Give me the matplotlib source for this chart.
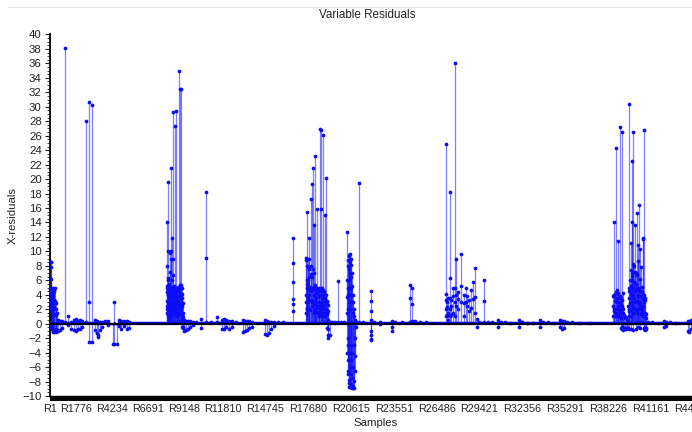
import matplotlib
matplotlib.use("Agg")
import matplotlib.pyplot as plt
from matplotlib.patches import Rectangle
from matplotlib.lines import Line2D
from matplotlib.ticker import MultipleLocator

plt.rcParams['font.family'] = ['Liberation Sans', 'DejaVu Sans']

# ---------------- data: sample numbers and residual values per sample ----------------
tick_samples = [1, 1776, 4234, 6691, 9148, 11810, 14745, 17680, 20615,
                23551, 26486, 29421, 32356, 35291, 38226, 41161, 44096]
tick_labels = ["R%d" % s for s in tick_samples]

region_a_samples = [5, 34, 103, 206, 309, 412, 515, 652, 789, 974, 1180, 1406, 1612,
                    1749, 1887, 2024, 2161, 2456, 2662, 2826, 3053, 3190, 3293, 3396,
                    3533, 3739, 3945, 4322, 4390, 4528, 4699, 4836, 5042, 5248, 5385,
                    15, 55, 75, 130, 160, 180, 240, 270, 350, 380, 440]
region_a_values = [[8.6, 8.5, 5.0, 4.8, 4.2, 3.0, 2.0, -0.3], [5.0, 4.0, 2.5, -0.5],
                   [4.3, 3.6, 2.2, -0.8], [4.9, 4.2, 3.4, -1.1], [4.9, 3.2, -1.0],
                   [1.2, -1.1], [0.5, -1.0], [0.4, -0.9], [0.4, -0.6], [38.2, 0.3],
                   [1.0, -0.2], [0.3, -0.8], [0.5, -0.9], [0.6, -1.0], [0.4, -0.8],
                   [0.5, -0.7], [0.4, -0.5], [28.0, 0.2], [30.7, 3.0, -2.6], [30.2, -2.6],
                   [0.5, -0.9], [0.4, -1.3], [-1.8, -1.5], [0.3, -0.9], [0.2, -0.5],
                   [0.4], [0.4, -0.2], [-2.8], [3.0, -2.8], [-2.8], [0.5, -0.3],
                   [0.4, -0.7], [0.4, -0.3], [0.4, -0.7], [0.3, -0.6],
                   [7.9, 3.5], [6.2, 2.8], [4.6, 1.9], [4.4, 2.0], [3.9, 1.2, -0.9],
                   [4.1, 2.6, -1.0], [3.3, 1.4, -1.1], [4.5, 2.3, -0.9], [2.8, -1.0],
                   [2.0, -0.8], [1.5, -0.9]]

region_b_samples = [7971, 8013, 8081, 8163, 8246, 8355, 8424, 8541, 8589, 8678, 8815,
                    8904, 8973, 9041, 9158, 9295, 9432, 9570, 9776, 9982, 10324, 10667,
                    11010, 11422, 11765, 11902, 12039, 12245, 12451, 12725, 13206, 13343,
                    13480, 13617, 13823, 14715, 14852, 14989, 15127, 15332, 15607, 15950,
                    7990, 8040, 8060, 8100, 8125, 8145, 8190, 8210, 8230, 8270, 8300,
                    8330, 8380, 8400, 8450, 8480, 8510, 8560, 8620, 8650, 8700, 8730,
                    8760, 8790, 8840, 8870, 8930, 8950, 9000, 9020, 9070, 9100]
region_b_values = [[4.4, 2.5, 1.5], [14.1, 8.0, 5.0, 3.2], [19.6, 10.0, 6.0, 4.0, 2.0],
                   [9.8, 5.0, 3.0, 1.0], [21.5, 10.0, 4.5, 2.5], [11.8, 6.0, 4.0, 2.0],
                   [29.3, 9.0, 5.0, 3.0], [27.4, 5.0, 3.5, 1.5], [29.4, 4.0, 2.0],
                   [4.5, 3.0, 1.0], [35.0, 5.0, 3.0, 1.5], [32.5, 5.3, 2.5],
                   [32.5, 4.0, 2.0], [4.1, 2.5, 0.5, -0.5], [0.5, -1.0], [0.4, -0.9],
                   [0.4, -0.8], [0.4, -0.5], [0.3, -0.2], [0.3], [0.6, -0.6],
                   [18.2, 9.1, 0.2], [0.2], [0.9, 0.2], [0.5, -0.8], [0.6, -0.7],
                   [0.5, -0.5], [0.4, -0.8], [0.4, -0.5], [0.2], [0.5, -1.2],
                   [0.4, -1.0], [0.4, -0.9], [0.4, -0.6], [0.3, -0.4], [0.5, -1.4],
                   [0.4, -1.6], [0.3, -1.3], [0.3, -0.8], [0.3, -0.3], [0.2], [0.2],
                   [5.2, 2.0], [4.6, 1.2], [6.3, 3.0], [4.9, 2.4], [5.5, 1.8], [4.0, 2.2],
                   [7.2, 3.5], [5.1, 1.5], [4.8, 2.6], [8.9, 4.0], [5.0, 2.1], [4.3, 1.7],
                   [6.8, 3.1], [5.0, 2.8], [4.7, 1.9], [5.2, 2.3], [3.9, 1.4], [4.4, 2.0],
                   [5.0, 2.6], [3.6, 1.1], [4.8, 2.2], [5.1, 1.6], [3.8, 2.4], [4.6, 1.3],
                   [5.0, 2.7], [4.2, 1.8], [5.3, 2.0], [3.7, 1.5], [4.9, 2.9], [3.5, 1.2],
                   [2.8, 0.9, -0.4], [1.5, -0.6]]

region_c_samples = [16656, 17507, 17562, 17617, 17685, 17754, 17850, 17919, 18029, 18077,
                    18166, 18235, 18303, 18385, 18488, 18577, 18646, 18714, 18810, 18920,
                    18968, 19057, 19140, 19311, 19517, 19743, 19929, 20135, 20320, 20374,
                    20429, 20477, 20525, 20580, 20635, 20683, 20752, 20820, 20889, 20958,
                    21184, 21437, 21952, 22007, 22193, 22604, 23407, 23633, 24113, 24662,
                    24779, 25005, 25348, 25760,
                    17530, 17590, 17640, 17710, 17730, 17800, 17880, 17950, 17990, 18050,
                    18110, 18140, 18200, 18270, 18340, 18420, 18450, 18520, 18550, 18610,
                    18680, 18750, 18780, 18850, 18890, 18950, 19000, 19020,
                    20350, 20400, 20450, 20500, 20550, 20610, 20660, 20720, 20790, 20860]
region_c_values = [[11.8, 8.4, 5.7, 3.4, 2.7, 1.7], [9.1, 3.0, 1.5], [6.0, 4.0, 2.0],
                   [15.4, 8.0, 5.0, 3.0], [9.0, 6.0, 3.5], [11.8, 7.5, 4.0, 2.0],
                   [17.2, 8.0, 4.5], [19.3, 6.5, 3.0], [21.5, 5.0, 3.0],
                   [13.7, 7.0, 4.0, 1.5], [23.2, 4.9, 3.0], [5.0, 3.5, 2.0],
                   [15.8, 4.8, 2.5], [4.5, 3.0, 1.0], [26.9, 4.5, 2.5],
                   [26.8, 15.8, 4.0, 2.0], [5.0, 3.0, 1.0], [26.1, 4.0, 2.0],
                   [15.0, 3.5, 1.5], [20.1, 3.0, 2.0], [3.0, 1.5, -0.6], [0.5, -2.0],
                   [0.3, -1.5], [0.3], [0.3, 0.1], [5.9, 0.3], [0.2], [0.3],
                   [12.7, 3.7, 1.5], [5.0, 2.0, -2.0, -5.0], [8.0, 4.0, -3.0, -7.0],
                   [9.4, 6.0, 2.0, -4.0, -8.7], [9.7, 7.0, 3.0, -6.0, -8.8],
                   [9.0, 5.0, -5.0, -8.6], [8.1, 4.0, -3.0, -7.0], [7.0, 3.0, -4.0, -8.9],
                   [4.0, 1.5, -6.0, -8.9], [2.0, -3.0, -8.9], [0.5, -2.0, -6.5],
                   [0.3, -0.5], [19.4, 0.3], [0.2], [4.5, 3.1, 1.8, -1.0, -2.1],
                   [0.5, -1.5, -2.2], [0.3], [0.2, -0.1], [0.4, -0.5, -1.0], [0.3],
                   [0.2], [5.3, 3.6, 0.3], [4.9, 2.7, 0.4], [0.4], [0.3], [0.2],
                   [8.8, 4.0], [5.5, 2.2], [7.9, 3.1], [6.4, 2.0], [9.0, 4.8], [5.1, 1.9],
                   [6.9, 3.3], [5.0, 2.5], [7.6, 3.0], [4.9, 1.8], [5.3, 2.7], [4.6, 2.0],
                   [5.0, 3.0], [4.3, 1.6], [4.8, 2.4], [3.9, 1.3], [5.0, 2.2], [4.5, 1.7],
                   [4.9, 2.9], [3.6, 1.2], [4.7, 2.3], [3.8, 1.5], [4.4, 2.6], [3.3, 1.1],
                   [4.0, 2.0], [3.1, 1.4], [2.6, -0.8], [1.8, -1.6],
                   [6.0, -4.0], [8.8, -6.5], [7.5, -8.2], [9.5, -7.8], [8.6, -8.7],
                   [6.5, -8.4], [5.2, -7.5], [3.0, -8.6], [1.0, -7.9], [0.4, -4.5]]

region_d_samples = [27110, 27166, 27234, 27385, 27474, 27591, 27728, 27838, 27975, 28140,
                    28346, 28483, 28593, 28710, 28826, 28963, 29100, 29238, 29396, 29718,
                    30013, 30287, 30678, 30905, 31179, 31522, 32119, 32345, 32688, 33100,
                    33580, 33786, 34129, 34541, 34952, 35089, 35226, 35432, 35775, 36324,
                    37010]
region_d_values = [[24.8, 4.1, 3.3, 2.0, 1.0], [3.0, 2.3, 1.2], [3.6, 1.5, 0.5],
                   [18.2, 6.3, 3.5, 2.0, 1.0], [3.3, 2.5, 1.2], [4.9, 3.9, 1.5],
                   [36.0, 4.9, 3.0, 1.0], [9.0, 4.0, 2.5], [4.4, 3.4, 2.0],
                   [9.6, 5.2, 3.0], [4.0, 2.8, 1.0], [5.0, 3.0], [3.9, 2.5], [3.3, 1.8],
                   [4.7, 2.2], [5.7, 3.4], [7.7, 3.7, 1.5], [0.6, -0.5], [0.3],
                   [6.1, 3.1, 0.2], [0.2], [0.2], [0.5, -0.5], [0.3, 0.1], [0.2], [0.1],
                   [0.5, -0.5], [0.3, 0.2], [0.1], [0.1], [0.5, -0.5], [0.3], [0.2],
                   [0.1], [0.5, -0.5], [0.4, -0.7], [0.4, -0.6], [0.3], [0.2], [0.1],
                   [0.1]]

region_e_samples = [38609, 38677, 38774, 38842, 38951, 39088, 39157, 39226, 39274, 39377,
                    39514, 39651, 39706, 39802, 39871, 39912, 39960, 40029, 40097, 40166,
                    40234, 40324, 40351, 40419, 40474, 40625, 40666, 40735, 40783, 40851,
                    40988, 41263, 41675, 42087, 42224, 42498, 42910, 43699, 43802, 43939,
                    38640, 38720, 38800, 38890, 38920, 39010, 39050, 39120, 39190, 39250,
                    39320, 39440, 39600, 39680, 39740, 39780, 39840, 39890, 39940, 39990,
                    40060, 40130, 40200, 40270, 40300, 40380, 40450, 40520, 40560, 40600,
                    40700, 40760, 40820]
region_e_values = [[3.8, 2.5, 1.0], [14.0, 4.0, 2.0], [24.3, 3.5, 1.5], [4.7, 3.0, 1.0],
                   [11.5, 4.2, 2.0], [27.2, 3.0, 1.0], [3.5, 2.0, -0.6], [26.5, 2.5, -0.8],
                   [4.3, 1.5, -0.9], [0.8, -0.7], [0.5, -0.6], [3.5, 1.0, -0.8],
                   [30.4, 5.0, 2.0], [11.1, 4.1, 1.0, -0.8], [22.5, 6.0, 3.0],
                   [14.1, 7.0, 2.5], [26.5, 5.0, 1.5, -0.9], [8.0, 3.5], [13.7, 4.5, 2.0],
                   [7.0, 3.0, -0.7], [15.3, 5.0, 1.5], [10.9, 4.0, 2.0], [16.4, 3.0],
                   [10.4, 4.5, -0.6], [7.9, 2.5], [11.8, 3.4, 1.0], [11.7, 4.0, 2.5],
                   [26.8, 3.0, -0.7], [3.3, 1.5, -0.9], [0.8, -0.6], [0.3], [0.2], [0.1],
                   [0.4, -0.5], [0.3, -0.3], [0.2], [0.1], [0.4, -1.0], [0.3, -1.1],
                   [0.5, -0.8],
                   [4.0, 1.8], [3.2, 1.0], [4.4, 2.1], [3.5, 1.2], [4.1, 2.4], [3.0, 1.1],
                   [3.9, 1.6], [2.6, 0.8], [3.3, -0.5], [2.0, -0.7], [1.2, -0.6],
                   [0.9, -0.7], [2.4, -0.6], [4.5, 1.7], [6.0, 2.8], [5.2, 1.9], [7.4, 3.6],
                   [6.6, 2.5], [8.3, 4.0], [5.8, 2.2], [7.1, 3.0], [5.5, 1.8], [6.8, 3.2],
                   [5.0, -0.5], [8.7, 3.9], [4.8, 2.1], [6.2, 2.7], [3.9, 1.4], [4.4, 2.0],
                   [5.1, 1.6], [4.0, -0.6], [3.6, 1.2], [1.4, -0.8]]

all_samples = (region_a_samples + region_b_samples + region_c_samples
               + region_d_samples + region_e_samples)
all_values = (region_a_values + region_b_values + region_c_values
              + region_d_values + region_e_values)
order = sorted(range(len(all_samples)), key=lambda i: all_samples[i])
all_samples = [all_samples[i] for i in order]
all_values = [all_values[i] for i in order]

# ---------------- figure ----------------
W, H = 692, 432
fig = plt.figure(figsize=(W / 100, H / 100), dpi=100)
ax_left, ax_right = 50, 693.5
ax_top, ax_bottom = 34.5, 396
ax = fig.add_axes([ax_left / W, (H - ax_bottom) / H,
                   (ax_right - ax_left) / W, (ax_bottom - ax_top) / H])

blue = '#0000ff'
lo = [min(0.0, min(v)) for v in all_values]
hi = [max(0.0, max(v)) for v in all_values]
ax.vlines(all_samples, lo, hi, color=blue, alpha=0.5, linewidth=0.9, zorder=2)

px, py = [], []
for s, vals in zip(all_samples, all_values):
    for v in vals:
        px.append(s)
        py.append(v)
ax.plot(px, py, linestyle='none', marker='o', markersize=2.7,
        markerfacecolor='#0c0cf5', markeredgewidth=0, zorder=3)

# band of residuals close to zero and the zero line
ax.plot(all_samples, [0.15 if v[0] > 0 else -0.15 for v in all_values],
        color=blue, linewidth=1.2, zorder=2)
ax.axhline(0, color='#000020', linewidth=1.6, zorder=4)

ax.set_xlim(-33, 44100)
ax.set_ylim(-10, 40)

ax.set_yticks(range(-10, 41, 2))
ax.yaxis.set_minor_locator(MultipleLocator(0.5))
ax.tick_params(axis='y', which='major', length=3.5, width=0.8, direction='out',
               pad=2.5, labelsize=8.2, colors='#222222')
ax.tick_params(axis='y', which='minor', length=2, width=0.6, direction='out',
               colors='#222222')
ax.set_xticks(tick_samples)
ax.set_xticklabels(tick_labels)
ax.tick_params(axis='x', length=0, pad=5.5, labelsize=7.8, colors='#222222')

for side in ('top', 'right'):
    ax.spines[side].set_visible(False)
ax.spines['left'].set_linewidth(1.4)
ax.spines['left'].set_color('#111111')
ax.spines['bottom'].set_linewidth(1.0)
ax.spines['bottom'].set_color('#000000')
band_h = 5.0 / (ax_bottom - ax_top)
ax.add_patch(Rectangle((0, -band_h), 1, band_h, transform=ax.transAxes,
                       facecolor='black', edgecolor='none', clip_on=False, zorder=5))

ax.set_ylabel('X-residuals', fontsize=8.2, color='#222222')
ax.yaxis.set_label_coords((18 - ax_left) / (ax_right - ax_left), 0.5)
ax.set_xlabel('Samples', fontsize=8.2, color='#222222')
ax.xaxis.set_label_coords((376 - ax_left) / (ax_right - ax_left),
                          -(422.5 - ax_bottom) / (ax_bottom - ax_top))
ax.xaxis.label.set_verticalalignment('center')

fig.text(367 / W, 1 - 14.5 / H, 'Variable Residuals', ha='center', va='center',
         fontsize=8.4, color='#222222')
fig.add_artist(Line2D([8 / W, 1], [1 - 7 / H, 1 - 7 / H], color='#e6e6e6',
                      linewidth=0.8))

fig.savefig('out.png', dpi=100)
